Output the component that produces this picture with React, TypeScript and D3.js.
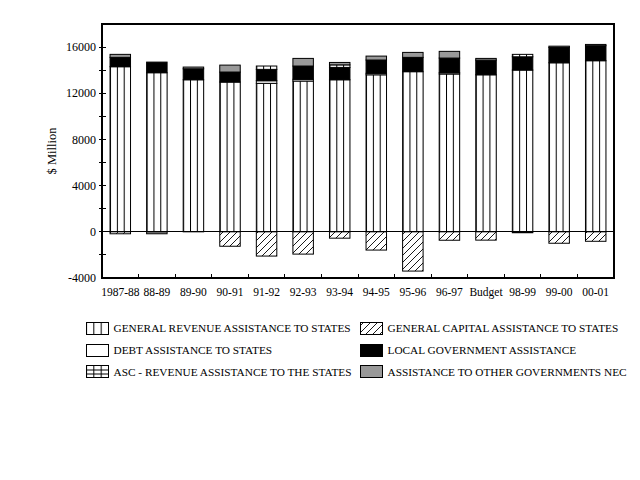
import React, { useEffect, useRef } from 'react';
import * as d3 from 'd3';

// Commonwealth payments to the states, $ million
const categories = [
  '1987-88', '88-89', '89-90', '90-91', '91-92', '92-93', '93-94',
  '94-95', '95-96', '96-97', 'Budget', '98-99', '99-00', '00-01',
];
const generalRevenue = [14300, 13780, 13170, 12970, 12860, 13060, 13170, 13600, 13870, 13670, 13600, 14010, 14640, 14820];
const generalCapital = [-170, 0, 0, -1250, -2100, -1930, -550, -1580, -3400, -730, -720, -80, -990, -820];
const debtAssistance = [0, 0, 0, 0, 225, 150, 0, 130, 0, 110, 0, 0, 0, 0];
const localGovernment = [810, 920, 950, 870, 985, 1150, 1070, 1150, 1240, 1270, 1270, 1150, 1330, 1300];
const ascRevenue = [0, 0, 0, 0, 290, 0, 220, 0, 0, 0, 0, 210, 0, 0];
const otherGovernments = [260, -170, 150, 600, 0, 660, 210, 340, 430, 580, 150, 0, 110, 110];

const yTicks = [-4000, -2000, 0, 2000, 4000, 6000, 8000, 10000, 12000, 14000, 16000, 18000];

const seriesKeys = ['generalRevenue', 'generalCapital', 'debt', 'localGov', 'ascRevenue', 'otherGov'];
const seriesLabels: Record<string, string> = {
  generalRevenue: 'GENERAL REVENUE ASSISTANCE TO STATES',
  generalCapital: 'GENERAL CAPITAL ASSISTANCE TO STATES',
  debt: 'DEBT ASSISTANCE TO STATES',
  localGov: 'LOCAL GOVERNMENT ASSISTANCE',
  ascRevenue: 'ASC - REVENUE ASSISTANCE TO THE STATES',
  otherGov: 'ASSISTANCE TO OTHER GOVERNMENTS NEC',
};
const seriesFill: Record<string, string> = {
  generalRevenue: 'url(#pat-vert)',
  generalCapital: 'url(#pat-hatch)',
  debt: '#ffffff',
  localGov: '#000000',
  ascRevenue: 'url(#pat-grid)',
  otherGov: '#999999',
};
// legend is laid out in two columns
const legendColumns = [
  ['generalRevenue', 'debt', 'ascRevenue'],
  ['generalCapital', 'localGov', 'otherGov'],
];

const FONT = "'Liberation Serif', 'Times New Roman', serif";

const App: React.FC = () => {
  const svgRef = useRef<SVGSVGElement>(null);

  useEffect(() => {
    const svg = d3.select(svgRef.current!);
    svg.selectAll('*').remove();

    const margin = { top: 24, right: 26, bottom: 202, left: 102 };
    const width = 640 - margin.left - margin.right;
    const height = 480 - margin.top - margin.bottom;

    // patterns
    const defs = svg.append('defs');
    const vert = defs
      .append('pattern')
      .attr('id', 'pat-vert')
      .attr('patternUnits', 'objectBoundingBox')
      .attr('width', 1 / 3)
      .attr('height', 1);
    vert.append('rect').attr('width', 100).attr('height', 2000).attr('fill', '#fff');
    vert.append('line').attr('x1', 0.5).attr('x2', 0.5).attr('y1', 0).attr('y2', 2000).attr('stroke', '#000');

    const grid = defs
      .append('pattern')
      .attr('id', 'pat-grid')
      .attr('patternUnits', 'objectBoundingBox')
      .attr('width', 1 / 3)
      .attr('height', 1);
    grid.append('rect').attr('width', 100).attr('height', 2000).attr('fill', '#fff');
    grid.append('line').attr('x1', 0.5).attr('x2', 0.5).attr('y1', 0).attr('y2', 2000).attr('stroke', '#000');
    [4.5, 8.5].forEach((y) =>
      grid.append('line').attr('x1', 0).attr('x2', 100).attr('y1', y).attr('y2', y).attr('stroke', '#000')
    );

    const hatch = defs
      .append('pattern')
      .attr('id', 'pat-hatch')
      .attr('patternUnits', 'userSpaceOnUse')
      .attr('width', 7)
      .attr('height', 7);
    hatch.append('rect').attr('width', 7).attr('height', 7).attr('fill', '#fff');
    hatch
      .append('path')
      .attr('d', 'M0,7 L7,0 M-1,1 L1,-1 M6,8 L8,6')
      .attr('stroke', '#000')
      .attr('stroke-width', 0.9);

    const chart = svg.append('g').attr('transform', `translate(${margin.left}, ${margin.top})`);

    const slot = d3.scaleBand<string>().domain(categories).range([0, width]);
    const yScale = d3.scaleLinear().domain([-4000, 18000]).range([height, 0]);

    const rows = categories.map((c, i) => ({
      category: c,
      generalRevenue: generalRevenue[i],
      generalCapital: generalCapital[i],
      debt: debtAssistance[i],
      localGov: localGovernment[i],
      ascRevenue: ascRevenue[i],
      otherGov: otherGovernments[i],
    }));

    const stacked = d3
      .stack<any>()
      .keys(seriesKeys)
      .offset(d3.stackOffsetDiverging)(rows);

    const barW = slot.bandwidth() * 0.56;
    const barOff = (slot.bandwidth() - barW) / 2;

    // bars
    stacked.forEach((layer) => {
      chart
        .append('g')
        .selectAll('rect')
        .data(layer.filter((d) => d[1] - d[0] !== 0))
        .enter()
        .append('rect')
        .attr('x', (d) => (slot(d.data.category) as number) + barOff)
        .attr('y', (d) => yScale(Math.max(d[0], d[1])))
        .attr('width', barW)
        .attr('height', (d) => Math.abs(yScale(d[0]) - yScale(d[1])))
        .attr('fill', seriesFill[layer.key])
        .attr('stroke', '#000')
        .attr('stroke-width', 1);
    });

    // zero line
    chart
      .append('line')
      .attr('x1', 0)
      .attr('x2', width)
      .attr('y1', yScale(0))
      .attr('y2', yScale(0))
      .attr('stroke', '#000')
      .attr('shape-rendering', 'crispEdges');

    // frame
    chart
      .append('rect')
      .attr('width', width)
      .attr('height', height)
      .attr('fill', 'none')
      .attr('stroke', '#000')
      .attr('stroke-width', 1.2)
      .attr('shape-rendering', 'crispEdges');

    // y ticks
    chart
      .selectAll('.ytick')
      .data(yTicks.filter((t) => t > -4000 && t < 18000))
      .enter()
      .append('line')
      .attr('x1', -3)
      .attr('x2', 4)
      .attr('y1', (d) => yScale(d))
      .attr('y2', (d) => yScale(d))
      .attr('stroke', '#000')
      .attr('shape-rendering', 'crispEdges');

    chart
      .selectAll('.ylabel')
      .data(yTicks.filter((t) => t % 4000 === 0 && t <= 16000))
      .enter()
      .append('text')
      .attr('x', -6)
      .attr('y', (d) => yScale(d))
      .attr('dy', '0.35em')
      .attr('text-anchor', 'end')
      .attr('font-family', FONT)
      .attr('font-size', 12)
      .text((d) => String(d));

    // x ticks between categories
    chart
      .selectAll('.xtick')
      .data(categories.slice(1))
      .enter()
      .append('line')
      .attr('x1', (d) => slot(d) as number)
      .attr('x2', (d) => slot(d) as number)
      .attr('y1', height)
      .attr('y2', height - 4)
      .attr('stroke', '#000')
      .attr('shape-rendering', 'crispEdges');

    chart
      .selectAll('.xlabel')
      .data(categories)
      .enter()
      .append('text')
      .attr('x', (d) => (slot(d) as number) + slot.bandwidth() / 2)
      .attr('y', height + 18)
      .attr('text-anchor', 'middle')
      .attr('font-family', FONT)
      .attr('font-size', 11.5)
      .text((d) => d);

    // y axis title
    svg
      .append('text')
      .attr('transform', `translate(56, 151) rotate(-90)`)
      .attr('text-anchor', 'middle')
      .attr('font-family', FONT)
      .attr('font-size', 12.5)
      .text('$ Million');

    // legend
    const legend = svg.append('g');
    const colX = [86, 360];
    const rowY = [322, 344, 365.5];
    legendColumns.forEach((col, ci) => {
      col.forEach((key, ri) => {
        legend
          .append('rect')
          .attr('x', colX[ci])
          .attr('y', rowY[ri])
          .attr('width', 22)
          .attr('height', 12)
          .attr('fill', seriesFill[key])
          .attr('stroke', '#000')
          .attr('shape-rendering', 'crispEdges');
        legend
          .append('text')
          .attr('x', colX[ci] + 27.5)
          .attr('y', rowY[ri] + 10)
          .attr('font-family', FONT)
          .attr('font-size', 11.3)
          .text(seriesLabels[key]);
      });
    });
  }, []);

  return (
    <svg
      ref={svgRef}
      width={640}
      height={480}
      style={{ position: 'absolute', left: 0, top: 0, background: '#fff' }}
    />
  );
};

export default App;
